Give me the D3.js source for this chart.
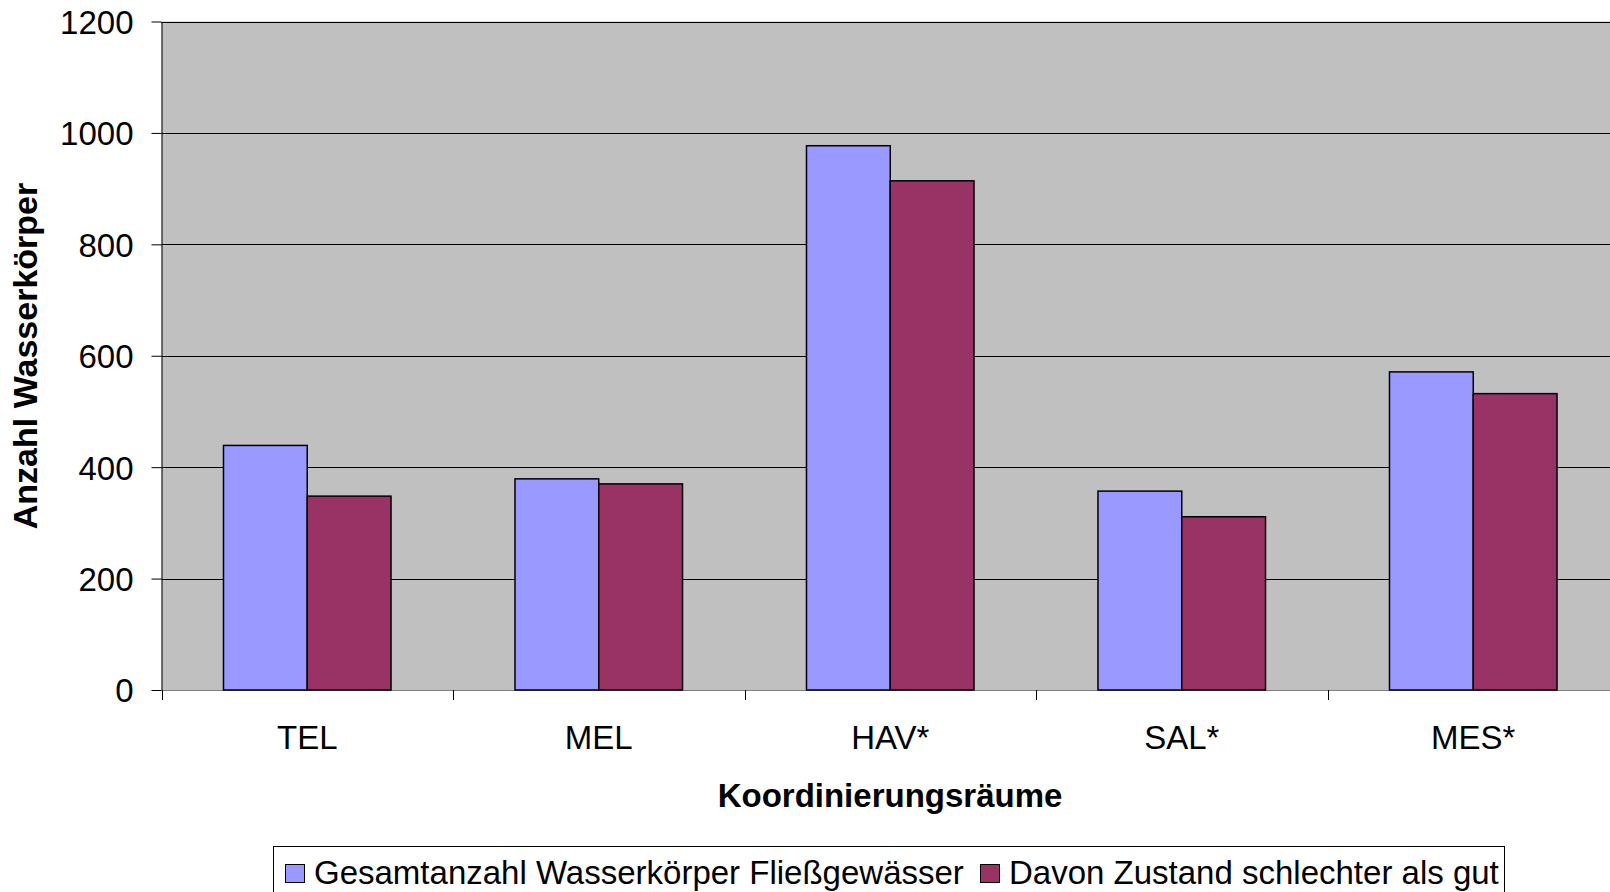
<!DOCTYPE html>
<html>
<head>
<meta charset="utf-8">
<script src="https://cdn.jsdelivr.net/npm/d3@7"></script>
<style>
  body { margin: 0; background: #fff; }
  svg { display: block; font-family: 'Liberation Sans', Arial, sans-serif; }
</style>
</head>
<body>
<svg width="1610" height="892"></svg>
<script>
const categories = ['TEL', 'MEL', 'HAV*', 'SAL*', 'MES*'];
const seriesNames = ['Gesamtanzahl Wasserkörper Fließgewässer', 'Davon Zustand schlechter als gut'];
const totalValues = [439, 379, 977, 357, 571];
const worseValues = [348, 370, 914, 311, 532];
const yTicks = [0, 200, 400, 600, 800, 1000, 1200];
const colors = ['#9999FF', '#993366'];

const svg = d3.select('svg');
const PLOT = { LEFT: 161.5, TOP: 21.5, RIGHT: 1619, BOTTOM: 690 };
const FONT = 33;

const data = categories.map((c, i) => ({ cat: c, values: [totalValues[i], worseValues[i]] }));

// scales
const x = d3.scaleBand().domain(categories).range([PLOT.LEFT, PLOT.RIGHT]);
const xInner = d3.scaleBand().domain([0, 1]).range([0, x.bandwidth()]).paddingOuter(0.74);
const y = d3.scaleLinear().domain([0, 1200]).range([PLOT.BOTTOM, PLOT.TOP]);

// plot background
svg.append('rect')
  .attr('x', PLOT.LEFT).attr('y', PLOT.TOP)
  .attr('width', PLOT.RIGHT - PLOT.LEFT).attr('height', PLOT.BOTTOM - PLOT.TOP)
  .attr('fill', '#C0C0C0');

// gridlines
svg.append('g')
  .selectAll('line')
  .data(yTicks)
  .join('line')
  .attr('x1', PLOT.LEFT).attr('x2', PLOT.RIGHT)
  .attr('y1', d => Math.round(y(d)) + 0.5).attr('y2', d => Math.round(y(d)) + 0.5)
  .attr('stroke', d => (d === 0 ? '#808080' : '#000'))
  .attr('stroke-width', 1);

// y axis
const yAxis = svg.append('g')
  .attr('transform', `translate(${PLOT.LEFT},0)`)
  .call(d3.axisLeft(y).tickValues(yTicks).tickFormat(d3.format('d')).tickSize(10).tickSizeOuter(0));
yAxis.select('.domain').attr('stroke', '#000');
yAxis.selectAll('.tick line').attr('stroke', '#000');
yAxis.selectAll('.tick text')
  .attr('font-size', FONT)
  .attr('fill', '#000')
  .attr('font-family', "'Liberation Sans', Arial, sans-serif")
  .attr('x', -28)
  .attr('dy', '0.36em');

// x axis ticks on category boundaries
const bounds = categories.map(c => x(c)).concat([PLOT.RIGHT]);
svg.append('g')
  .selectAll('line')
  .data(bounds)
  .join('line')
  .attr('x1', d => Math.round(d) + 0.5).attr('x2', d => Math.round(d) + 0.5)
  .attr('y1', PLOT.BOTTOM).attr('y2', PLOT.BOTTOM + 10)
  .attr('stroke', '#000');

// category labels
svg.append('g')
  .selectAll('text')
  .data(categories)
  .join('text')
  .attr('x', d => x(d) + x.bandwidth() / 2)
  .attr('y', 749)
  .attr('text-anchor', 'middle')
  .attr('font-size', FONT)
  .text(d => d);

// bars
const groups = svg.append('g')
  .selectAll('g')
  .data(data)
  .join('g')
  .attr('transform', d => `translate(${x(d.cat)},0)`);

groups.selectAll('rect')
  .data(d => d.values.map((v, i) => ({ i, v })))
  .join('rect')
  .attr('x', d => xInner(d.i))
  .attr('width', xInner.bandwidth())
  .attr('y', d => y(d.v))
  .attr('height', d => y(0) - y(d.v))
  .attr('fill', d => colors[d.i])
  .attr('stroke', '#000')
  .attr('stroke-width', 1.5);

// axis titles
svg.append('text')
  .attr('x', 890).attr('y', 807)
  .attr('text-anchor', 'middle')
  .attr('font-size', FONT)
  .attr('font-weight', 'bold')
  .text('Koordinierungsräume');

svg.append('text')
  .attr('transform', 'translate(37,356) rotate(-90)')
  .attr('text-anchor', 'middle')
  .attr('font-size', 34)
  .attr('font-weight', 'bold')
  .text('Anzahl Wasserkörper');

// legend
const legend = svg.append('g');
legend.append('rect')
  .attr('x', 273.5).attr('y', 846.5)
  .attr('width', 1231).attr('height', 60)
  .attr('fill', '#fff')
  .attr('stroke', '#000');

const legendX = [285, 980];
seriesNames.forEach((name, i) => {
  legend.append('rect')
    .attr('x', legendX[i] + 0.5).attr('y', 864.5)
    .attr('width', 19).attr('height', 18)
    .attr('fill', colors[i])
    .attr('stroke', '#000');
  legend.append('text')
    .attr('x', legendX[i] + 29).attr('y', 884)
    .attr('font-size', FONT)
    .text(name);
});
</script>
</body>
</html>
